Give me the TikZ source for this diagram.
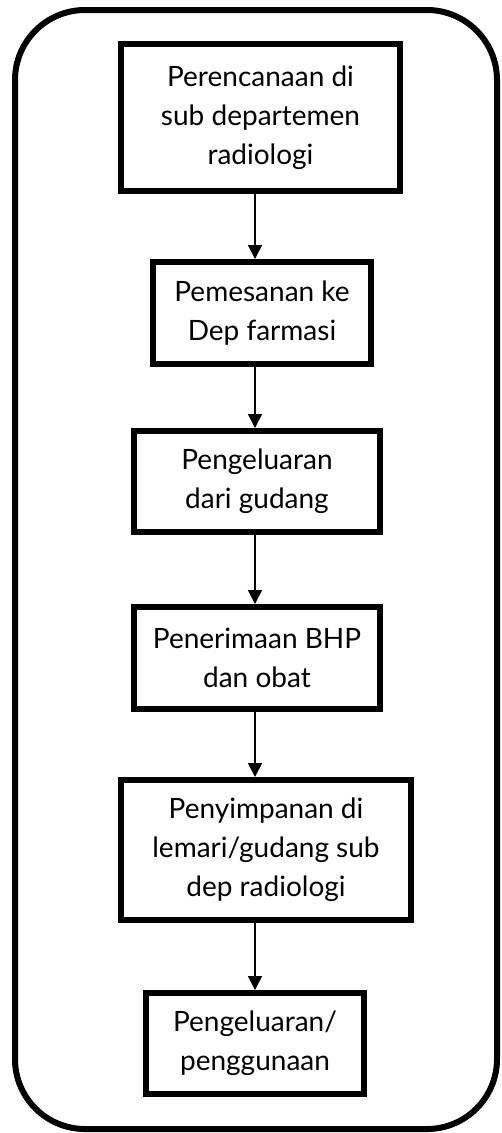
\documentclass[tikz,border=0pt]{standalone}
\usepackage{fontspec}
\setmainfont{Lato}
\usetikzlibrary{arrows.meta}
\begin{document}
\begin{tikzpicture}[x=1pt,y=-1pt,
  stepbox/.style={draw=black,line width=6pt,align=center,inner sep=0pt,
    font=\fontsize{28}{39}\selectfont},
  flow/.style={line width=1.7pt,-{Triangle[width=14pt,length=14pt]}},
  frame/.style={line width=6pt,rounded corners=70pt}]
\useasboundingbox (0,0) rectangle (501,1133);
% outer rounded frame
\draw[frame] (15,10) rectangle (497,1129);
% process steps
\node[stepbox,minimum width=279pt,minimum height=147pt] (b1) at (260.5,117.5)
  {Perencanaan di\\sub departemen\\radiologi};
\node[stepbox,minimum width=218pt,minimum height=102pt] (b2) at (262,313)
  {Pemesanan ke\\Dep farmasi};
\node[stepbox,minimum width=246pt,minimum height=101pt] (b3) at (257,481.5)
  {Pengeluaran\\dari gudang};
\node[stepbox,minimum width=246pt,minimum height=102pt] (b4) at (257,658)
  {Penerimaan BHP\\dan obat};
\node[stepbox,minimum width=290pt,minimum height=140pt] (b5) at (266,850)
  {Penyimpanan di\\lemari/gudang sub\\dep radiologi};
\node[stepbox,minimum width=218pt,minimum height=101pt] (b6) at (255,1043.5)
  {Pengeluaran/\\penggunaan};
% vertical line that carries the arrows
\coordinate (ax) at (255,0);
\draw[flow] (b1.south -| ax) -- (b2.north -| ax);
\draw[flow] (b2.south -| ax) -- (b3.north -| ax);
\draw[flow] (b3.south -| ax) -- (b4.north -| ax);
\draw[flow] (b4.south -| ax) -- (b5.north -| ax);
\draw[flow] (b5.south -| ax) -- (b6.north -| ax);
\end{tikzpicture}
\end{document}
